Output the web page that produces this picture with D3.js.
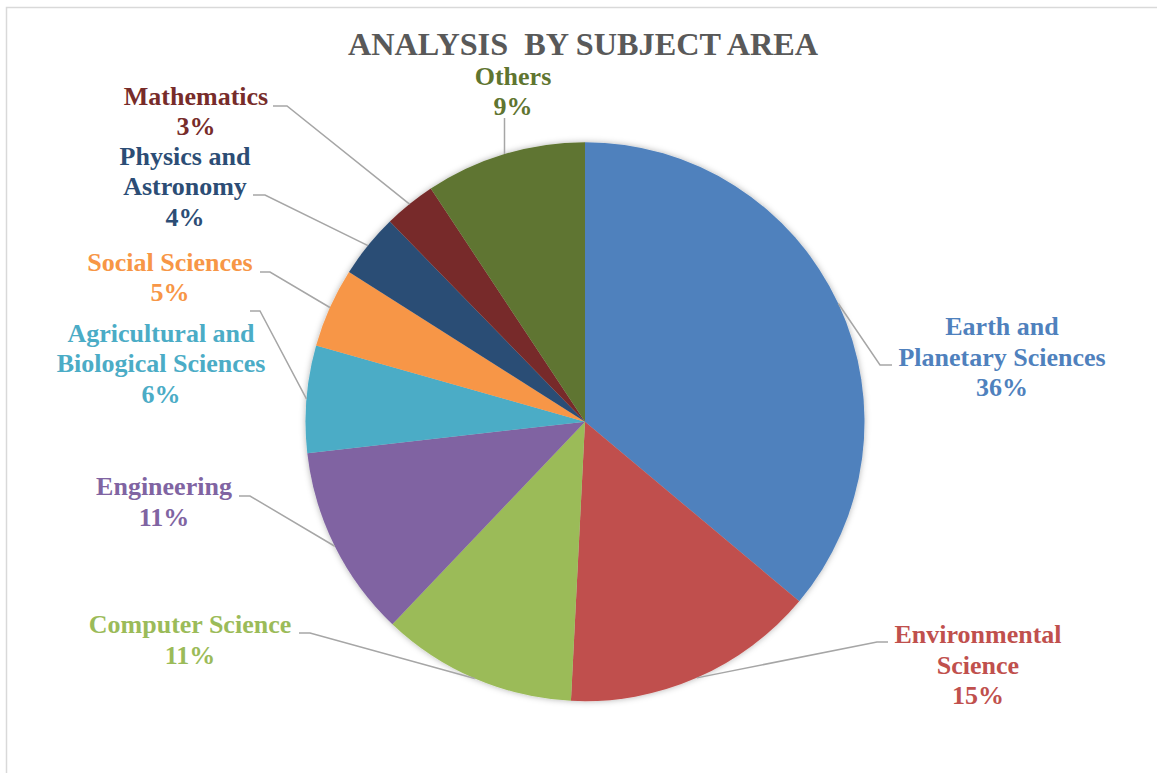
<!DOCTYPE html>
<html>
<head>
<meta charset="utf-8">
<script src="https://cdn.jsdelivr.net/npm/d3@7"></script>
<style>
  html, body { margin: 0; padding: 0; background: #fff; }
  svg { display: block; }
</style>
</head>
<body>
<svg id="chart" width="1157" height="773"></svg>
<script>
// ---- data ----
const categories = [
  "Earth and Planetary Sciences",
  "Environmental Science",
  "Computer Science",
  "Engineering",
  "Agricultural and Biological Sciences",
  "Social Sciences",
  "Physics and Astronomy",
  "Mathematics",
  "Others"
];
const shares = [36.1, 14.7, 11.3, 11.1, 6.2, 4.6, 3.7, 3.0, 9.3];
const labelLines = [
  ["Earth and", "Planetary Sciences"],
  ["Environmental", "Science"],
  ["Computer Science"],
  ["Engineering"],
  ["Agricultural and", "Biological Sciences"],
  ["Social Sciences"],
  ["Physics and", "Astronomy"],
  ["Mathematics"],
  ["Others"]
];
const colors = ["#4F81BD", "#C0504D", "#9BBB59", "#8064A2", "#4BACC6", "#F79646", "#2C4D75", "#772C2A", "#5F7530"];
const title = "ANALYSIS  BY SUBJECT AREA";

// ---- layout (label placement, as in the original) ----
const layout = [
  { cx: 1002, base: 335,   anchor: [892, 365], elbow: [880, 365] },
  { cx: 978,  base: 643.3, anchor: [888, 642], elbow: [877, 642] },
  { cx: 190,  base: 633.3, anchor: [299, 633], elbow: [310, 633] },
  { cx: 164,  base: 495,   anchor: [239, 496], elbow: [250, 496] },
  { cx: 161,  base: 341.7, anchor: [250, 311], elbow: [260, 311] },
  { cx: 170,  base: 270.7, anchor: [260, 272], elbow: [270, 272] },
  { cx: 185,  base: 164.5, anchor: [253, 195], elbow: [265, 195] },
  { cx: 196,  base: 104.5, anchor: [273, 106], elbow: [287, 106] },
  { cx: 513,  base: 84.5,  anchor: null,       elbow: null }
];

const FONT = "'Liberation Serif', 'Times New Roman', 'DejaVu Serif', serif";
const svg = d3.select("#chart");
const W = 1157, H = 773;

// frame
svg.append("rect").attr("x", 6.5).attr("y", 7.5).attr("width", W + 20).attr("height", H + 20)
  .attr("fill", "#fff").attr("stroke", "#d9d9d9").attr("stroke-width", 1.5);

// shadow
const defs = svg.append("defs");
const f = defs.append("filter").attr("id", "sh").attr("x", "-10%").attr("y", "-10%").attr("width", "120%").attr("height", "120%");
f.append("feDropShadow").attr("dx", 0).attr("dy", 0).attr("stdDeviation", 3)
  .attr("flood-color", "#000").attr("flood-opacity", 0.3);

const cx = 585, cy = 421.7, R = 279.5;
const pie = d3.pie().sort(null).value(d => d.v);
const data = categories.map((c, i) => ({ c, v: shares[i], i }));
const arcs = pie(data);
const arc = d3.arc().innerRadius(0).outerRadius(R);
const color = d3.scaleOrdinal().domain(categories).range(colors);
const total = d3.sum(shares);

const g = svg.append("g").attr("transform", `translate(${cx},${cy})`);
g.append("g").attr("filter", "url(#sh)")
  .selectAll("path").data(arcs).enter().append("path")
  .attr("d", arc).attr("fill", d => color(d.data.c));

// labels
const fs = 26, lh = 30.5;

// leader lines
const lines = svg.append("g");
arcs.forEach((a, i) => {
  const L = layout[i];
  const mid = (a.startAngle + a.endAngle) / 2;
  const ex = cx + R * Math.sin(mid), ey = cy - R * Math.cos(mid);
  let pts;
  if (L.anchor) pts = [L.anchor, L.elbow, [ex, ey]];
  else pts = [[ex, L.base + lh + 3], [ex, ey]];
  lines.append("path").attr("d", d3.line()(pts))
    .attr("fill", "none").attr("stroke", "#a6a6a6").attr("stroke-width", 1.5);
});

arcs.forEach((a, i) => {
  const L = layout[i];
  const t = svg.append("text").attr("text-anchor", "middle").attr("font-size", fs)
    .attr("font-family", FONT).attr("font-weight", "bold")
    .attr("fill", color(a.data.c));
  const rows = labelLines[i].concat([Math.round(a.data.v / total * 100) + "%"]);
  rows.forEach((r, k) => {
    t.append("tspan").attr("x", L.cx).attr("y", L.base + k * lh).text(r);
  });
});

// title
svg.append("text").attr("x", 583).attr("y", 55).attr("text-anchor", "middle")
  .attr("font-family", FONT).attr("font-weight", "bold")
  .attr("font-size", 31).attr("fill", "#595959").style("white-space", "pre")
  .attr("textLength", 470).attr("lengthAdjust", "spacingAndGlyphs")
  .text(title);
</script>
</body>
</html>
